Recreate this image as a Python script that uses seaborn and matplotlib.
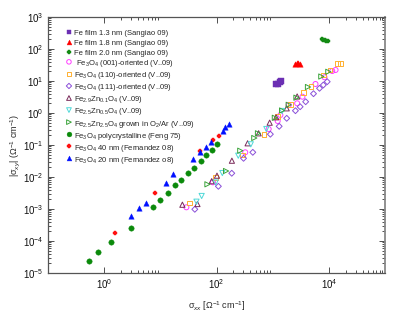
import numpy as np
import pandas as pd
import seaborn as sns
import matplotlib
matplotlib.use("Agg")
import matplotlib.pyplot as plt
from matplotlib.ticker import FixedLocator, LogFormatterSciNotation, NullFormatter

# ---------------- data ----------------
fe13_x = [1164, 1265, 1345, 1400]
fe13_y = [7.78, 8.06, 8.98, 10.0]

fe18_x = [2543, 2704, 2877, 3062]
fe18_y = [34.0, 36.5, 36.5, 34.0]

fe20_x = [7413, 7870, 8375, 8913, 9484]
fe20_y = [205, 198, 191, 184, 178]

o001_x = [29.1, 86.3, 325, 849, 1228, 1372, 1931, 2729, 3388, 5788, 8375, 11500, 13180]
o001_y = [1.13e-3, 6.83e-3, 0.0591, 0.316, 0.562, 0.866, 1.78, 2.01, 3.23, 8.06, 13.1, 20.5, 22.1]

o110_x = [33.5, 94.8, 294, 702, 1228, 2096, 3580, 4810, 8140, 10500, 14490, 16180]
o110_y = [1.54e-3, 9.8e-3, 0.0487, 0.216, 0.766, 1.82, 4.28, 6.83, 15.4, 22.1, 35.7, 35.7]

o111_x = [41.1, 108, 187, 303, 443, 910, 1306, 1778, 2543, 3083, 3868, 5333, 6823, 7980, 9354]
o111_y = [9.8e-4, 5.12e-3, 0.0131, 0.0384, 0.0591, 0.2175, 0.384, 0.683, 1.18, 1.57, 2.25, 4.01, 5.92, 7.5, 9.51]

zn01_x = [24.7, 45.8, 82.1, 102, 188, 358, 562, 884, 1151, 1778, 2729]
zn01_y = [1.36e-3, 1.43e-3, 7.39e-3, 0.011, 0.0323, 0.113, 0.232, 0.498, 0.734, 1.40, 3.28]

zn05_x = [44, 54.4, 96.8, 127, 244, 408, 772, 1472]
zn05_y = [1.69e-3, 2.55e-3, 6.73e-3, 0.0133, 0.0463, 0.105, 0.316, 1.155]

zn25_x = [69, 148, 265, 471, 548, 1094, 1472, 1931, 2650, 4253, 7345, 9795]
zn25_y = [5.91e-3, 0.0154, 0.0664, 0.1655, 0.232, 0.708, 1.197, 1.80, 3.01, 6.49, 13.8, 19.4]

feng_x = [0.533, 0.781, 1.33, 3.03, 7.32, 9.88, 13.5, 18.3, 23.4, 31.6, 40.5, 53.3, 66.3, 83.7, 104]
feng_y = [2.37e-5, 4.63e-5, 9.3e-5, 2.55e-4, 1.13e-3, 1.91e-3, 3.1e-3, 5.6e-3, 8.05e-3, 0.0131,
          0.0187, 0.0316, 0.0477, 0.0698, 0.107]

fer40_x = [1.57, 8.04, 51.2, 88.4, 110]
fer40_y = [1.78e-4, 3.16e-3, 0.065, 0.143, 0.195]

fer20_x = [3.0, 4.11, 5.56, 12.4, 17.1, 37.6, 51.2, 64.7, 80.4, 133, 143, 164]
fer20_y = [6.18e-4, 1.05e-3, 1.54e-3, 6.64e-3, 0.0127, 0.0357, 0.0591, 0.0885, 0.127, 0.274, 0.357, 0.453]

labels = [
    "Fe film 1.3 nm (Sangiao 09)",
    "Fe film 1.8 nm (Sangiao 09)",
    "Fe film 2.0 nm (Sangiao 09)",
    " Fe$_3$O$_4$ (001)-oriented (V..09)",
    "Fe$_3$O$_4$ (110)-oriented (V..09)",
    "Fe$_3$O$_4$ (111)-oriented (V..09)",
    "Fe$_{2.9}$Zn$_{0.1}$O$_4$ (V..09)",
    "Fe$_{2.5}$Zn$_{0.5}$O$_4$ (V..09)",
    "Fe$_{2.5}$Zn$_{2.5}$O$_4$ grown in O$_2$/Ar (V..09)",
    "Fe$_3$O$_4$ polycrystalline (Feng 75)",
    "Fe$_3$O$_4$ 40 nm (Fernandez 08)",
    "Fe$_3$O$_4$ 20 nm (Fernandez o8)",
]

xs = [fe13_x, fe18_x, fe20_x, o001_x, o110_x, o111_x, zn01_x, zn05_x, zn25_x, feng_x, fer40_x, fer20_x]
ys = [fe13_y, fe18_y, fe20_y, o001_y, o110_y, o111_y, zn01_y, zn05_y, zn25_y, feng_y, fer40_y, fer20_y]

# style: (marker, color, filled, size)
styles = [
    ("s", "#6b2fb3", True, 13),
    ("^", "#ff0000", True, 15),
    ("P", "#138a13", True, 11),
    ("o", "#ff3cff", False, 13),
    ("s", "#ffb030", False, 12),
    ("D", "#8a4fd8", False, 9),
    ("^", "#7a2a5a", False, 14),
    ("v", "#4fd8d8", False, 14),
    (">", "#3aa33a", False, 14),
    ("o", "#0a8a0a", True, 15),
    ("P", "#ff1010", True, 10),
    ("^", "#0010ff", True, 15),
]

# ---------------- styling ----------------
sns.set_theme(style="white")
plt.rcParams["font.family"] = ["Liberation Sans", "DejaVu Sans"]
plt.rcParams["mathtext.fontset"] = "custom"
plt.rcParams["mathtext.rm"] = "Liberation Sans"
plt.rcParams["mathtext.it"] = "Liberation Sans:italic"
plt.rcParams["mathtext.bf"] = "Liberation Sans:bold"
plt.rcParams["mathtext.sf"] = "Liberation Sans"

fig = plt.figure(figsize=(4.15, 3.21), dpi=100)
ax = fig.add_axes([48 / 415, 1 - 273 / 321, (385 - 48) / 415, (273 - 17) / 321])

for x, y, lab, (m, c, filled, s) in zip(xs, ys, labels, styles):
    df = pd.DataFrame({"x": x, "y": y})
    if filled:
        sns.scatterplot(data=df, x="x", y="y", ax=ax, marker=m, s=s, color=c,
                        edgecolor=c, linewidth=0.3, label=lab, zorder=3)
    else:
        sns.scatterplot(data=df, x="x", y="y", ax=ax, marker=m, s=s,
                        facecolor="none", edgecolor=c, linewidth=0.7, label=lab, zorder=3)

ax.set_xscale("log")
ax.set_yscale("log")
ax.set_xlim(1e-1, 1e5)
ax.set_ylim(1e-5, 1e3)

# ticks
ax.xaxis.set_major_locator(FixedLocator([1e0, 1e2, 1e4]))
xminor = []
for d in [1e0, 1e2, 1e4]:
    xminor += [k * d for k in range(2, 10)]
ax.xaxis.set_minor_locator(FixedLocator(xminor))
ax.xaxis.set_major_formatter(LogFormatterSciNotation())
ax.xaxis.set_minor_formatter(NullFormatter())

ax.yaxis.set_major_locator(FixedLocator([10.0 ** e for e in range(-5, 4)]))
yminor = []
for e in range(-5, 3):
    yminor += [k * 10.0 ** e for k in range(2, 10)]
ax.yaxis.set_minor_locator(FixedLocator(yminor))
ax.yaxis.set_major_formatter(LogFormatterSciNotation())
ax.yaxis.set_minor_formatter(NullFormatter())

ax.tick_params(which="both", direction="in", top=True, right=True, bottom=True, left=True,
               colors="#333333", labelcolor="#111111", width=0.6)
ax.tick_params(which="major", length=4, labelsize=7, pad=3)
ax.tick_params(which="minor", length=2)

for sp in ax.spines.values():
    sp.set_color("#555555")
    sp.set_linewidth(0.9)
ax.spines["right"].set_color("#888888")
ax.spines["right"].set_linewidth(1.3)

ax.set_xlabel("σ$_{xx}$ [Ω$^{-1}$ cm$^{-1}$]", fontsize=6.5, labelpad=6)
ax.set_ylabel("|σ$_{xy}$| (Ω$^{-1}$ cm$^{-1}$)", fontsize=6.5, labelpad=1)

leg = ax.legend(loc="upper left", bbox_to_anchor=(0.035, 0.975), frameon=False, fontsize=5.5,
                handletextpad=0.1, labelspacing=0.13, handleheight=1.45, borderaxespad=0.2,
                handlelength=1.2, markerscale=0.9)

fig.savefig("out.png", dpi=100)
